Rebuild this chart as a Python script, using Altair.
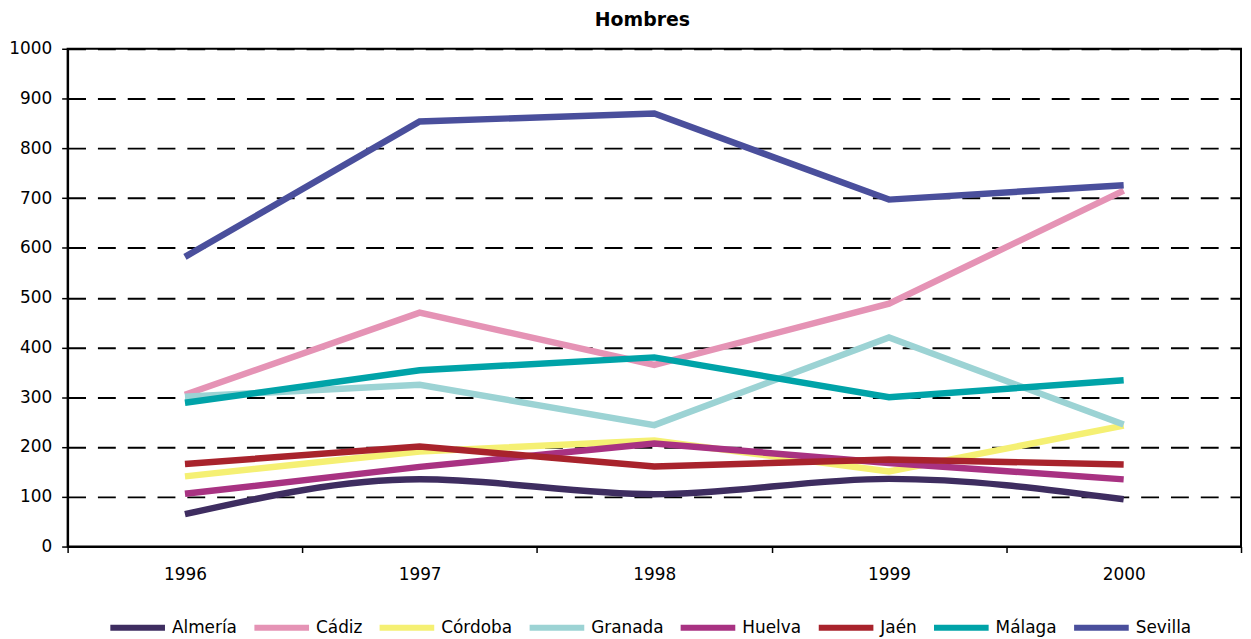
import altair as alt
import pandas as pd

years = ["1996", "1997", "1998", "1999", "2000"]
regions = ["Almería", "Cádiz", "Córdoba", "Granada", "Huelva", "Jaén", "Málaga", "Sevilla"]
colors = ["#3E2D60", "#E593B5", "#F5F073", "#9CD3D4", "#A83282", "#A8232C", "#00A3A8", "#4A4F9C"]

almeria = [65, 135, 105, 136, 95]
cadiz = [305, 470, 365, 488, 715]
cordoba = [141, 191, 213, 151, 243]
granada = [301, 325, 244, 420, 245]
huelva = [106, 160, 207, 168, 135]
jaen = [166, 201, 161, 175, 165]
malaga = [289, 354, 380, 300, 334]
sevilla = [582, 854, 870, 697, 726]

series = [almeria, cadiz, cordoba, granada, huelva, jaen, malaga, sevilla]
rows = []
for i, (name, vals) in enumerate(zip(regions, series)):
    for y, v in zip(years, vals):
        rows.append({"year": y, "region": name, "value": v, "k": i})
df = pd.DataFrame(rows)

FONT = "DejaVu Sans"

x = alt.X(
    "year:O",
    title=None,
    bandPosition=0.5,
    scale=alt.Scale(type="band", paddingInner=0, paddingOuter=0, domain=years),
    axis=alt.Axis(
        tickBand="extent", labelAngle=0, labelFont=FONT, labelFontSize=17,
        labelColor="black", tickColor="black", tickSize=6, tickWidth=1.5,
        domainColor="black", domainWidth=2, labelPadding=14, grid=False,
    ),
)
y = alt.Y(
    "value:Q",
    title=None,
    scale=alt.Scale(domain=[0, 1000], nice=False),
    axis=alt.Axis(
        values=list(range(0, 1001, 100)), format="d", labelFont=FONT, labelFontSize=17,
        labelColor="black", tickColor="black", tickSize=6, tickWidth=1.5,
        domainColor="black", domainWidth=2, labelPadding=10,
        grid=True, gridColor="black", gridDash=[18, 12], gridWidth=2,
    ),
)
color = alt.Color(
    "region:N",
    sort=regions,
    scale=alt.Scale(domain=regions, range=colors),
    legend=alt.Legend(
        title=None, orient="none", direction="horizontal", legendX=40, legendY=552,
        symbolType="stroke", symbolStrokeWidth=6, symbolSize=3025,
        labelFont=FONT, labelFontSize=17, labelColor="black",
        columnPadding=5, labelOffset=4,
    ),
)

base = alt.Chart(df)
alm = base.transform_filter(alt.datum.region == "Almería").mark_line(
    strokeWidth=6.5, interpolate="monotone"
).encode(x=x, y=y, color=color)
rest = base.transform_filter(alt.datum.region != "Almería").mark_line(
    strokeWidth=6.5
).encode(x=x, y=y, color=color, order=alt.Order("k:Q"))

chart = alt.layer(alm, rest).properties(
    width=1181, height=501,
    title=alt.TitleParams("Hombres", font=FONT, fontSize=19, fontWeight="bold",
                          color="black", anchor="middle", dx=-12, dy=-6),
    autosize=alt.AutoSizeParams(type="none"),
    padding={"left": 60, "top": 39, "right": 2, "bottom": 90},
).configure_view(stroke="black", strokeWidth=2)

chart.save("out.html", embed_options={"renderer": "svg", "actions": False})
